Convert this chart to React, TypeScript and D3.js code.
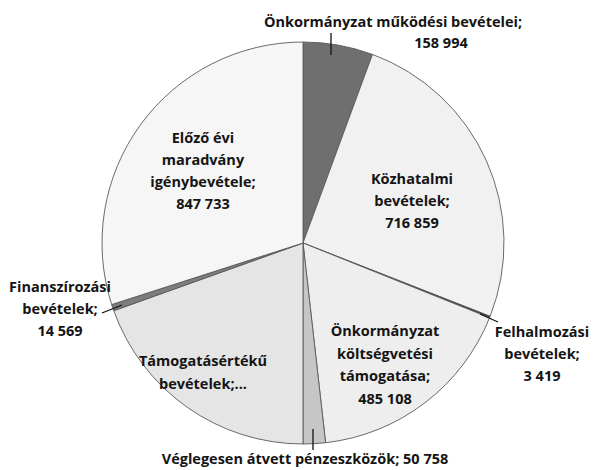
import React from "react";
import * as d3 from "d3";

const categories = [
  "Önkormányzat működési bevételei",
  "Közhatalmi bevételek",
  "Felhalmozási bevételek",
  "Önkormányzat költségvetési támogatása",
  "Véglegesen átvett pénzeszközök",
  "Támogatásértékű bevételek",
  "Finanszírozási bevételek",
  "Előző évi maradvány igénybevétele",
];
const values = [158994, 716859, 3419, 485108, 50758, 552836, 14569, 847733];
const fills = ["#6f6f6f", "#f1f1f1", "#3a3a3a", "#eeeeee", "#c6c6c6", "#e5e5e5", "#7d7d7d", "#f6f6f6"];

// label lines (as shown in the chart)
const labelLines: string[][] = [
  ["Önkormányzat működési bevételei;", "158 994"],
  ["Közhatalmi", "bevételek;", "716 859"],
  ["Felhalmozási", "bevételek;", "3 419"],
  ["Önkormányzat", "költségvetési", "támogatása;", "485 108"],
  ["Véglegesen átvett pénzeszközök; 50 758"],
  ["Támogatásértékű", "bevételek;..."],
  ["Finanszírozási", "bevételek;", "14 569"],
  ["Előző évi", "maradvány", "igénybevétele;", "847 733"],
];

const W = 596;
const H = 470;
const cx = 303;
const cy = 243;
const R = 201;

const labelPos = [
  { xs: [393, 441], y: 26.5, gap: 21.5 },
  { xs: [412, 412, 412], y: 184, gap: 22 },
  { xs: [542, 542, 542], y: 337, gap: 22 },
  { xs: [385, 385, 385, 385], y: 336, gap: 22.5 },
  { xs: [305], y: 464, gap: 22 },
  { xs: [203, 203], y: 366, gap: 22.5 },
  { xs: [60, 60, 60], y: 292, gap: 22 },
  { xs: [203, 203, 203, 203], y: 143, gap: 22 },
];

const leaders: { from: [number, number]; to: [number, number] }[] = [
  { from: [331, 55], to: [331, 33] },
  { from: [480, 314], to: [498, 322] },
  { from: [313, 429], to: [313, 450] },
  { from: [122, 305], to: [102, 313] },
];

export default function App() {
  const pie = d3
    .pie<number>()
    .sort(null)
    .value((d) => d)
    .startAngle(0)
    .endAngle(2 * Math.PI);
  const arcs = pie(values);
  const arcGen = d3.arc<d3.PieArcDatum<number>>().innerRadius(0).outerRadius(R);

  return (
    <svg
      width={W}
      height={H}
      style={{ position: "absolute", left: 0, top: 0, background: "#fff" }}
      fontFamily="'Open Sans', 'Noto Sans', sans-serif"
    >
      <rect width={W} height={H} fill="#ffffff" />
      <g transform={`translate(${cx},${cy})`}>
        {arcs.map((a, i) => (
          <path
            key={categories[i]}
            d={arcGen(a) || ""}
            fill={fills[i]}
            stroke="#5a5a5a"
            strokeWidth={0.9}
            strokeLinejoin="round"
          />
        ))}
      </g>
      {leaders.map((l, i) => (
        <line
          key={i}
          x1={l.from[0]}
          y1={l.from[1]}
          x2={l.to[0]}
          y2={l.to[1]}
          stroke="#111"
          strokeWidth={1.3}
        />
      ))}
      {labelLines.map((lines, i) => (
        <g key={"lbl" + i}>
          {lines.map((t, j) => (
            <text
              key={j}
              x={labelPos[i].xs[j]}
              y={labelPos[i].y + j * labelPos[i].gap}
              textAnchor="middle"
              fontSize={14.5}
              fontWeight="bold"
              fill="#141414"
            >
              {t}
            </text>
          ))}
        </g>
      ))}
    </svg>
  );
}
